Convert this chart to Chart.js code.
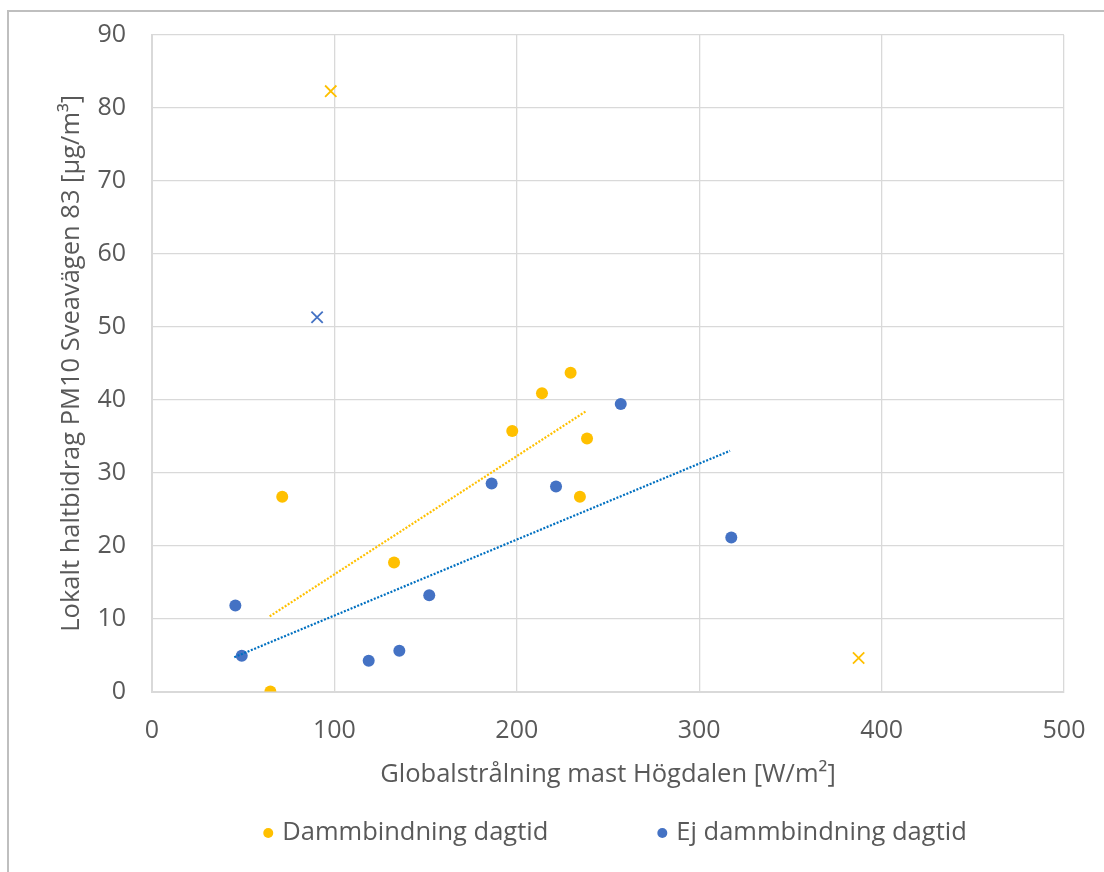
<!DOCTYPE html>
<html>
<head>
<meta charset="utf-8">
<script src="https://cdn.jsdelivr.net/npm/chart.js@4/dist/chart.umd.min.js"></script>
<style>
  html, body { margin: 0; padding: 0; background: #ffffff; }
  #wrap { width: 1104px; height: 872px; position: relative; }
</style>
</head>
<body>
<div id="wrap"><canvas id="chart" width="1104" height="872"></canvas></div>
<script>
// Global radiation (W/m²) vs local PM10 contribution (µg/m³)
const dammX = [64.9, 71.4, 132.7, 197.5, 213.8, 229.5, 238.5, 234.6];
const dammY = [0.0, 26.7, 17.7, 35.7, 40.9, 43.7, 34.7, 26.7];
const ejX = [45.7, 49.2, 118.8, 135.6, 152.0, 186.2, 221.5, 257.0, 317.6];
const ejY = [11.8, 4.9, 4.2, 5.6, 13.2, 28.5, 28.1, 39.4, 21.1];

// Excluded days (drawn as crosses)
const dammOutX = [98.0, 387.4];
const dammOutY = [82.3, 4.6];
const ejOutX = [90.5];
const ejOutY = [51.3];

// Linear trend lines, end points
const dammTrendX = [64.5, 237.8];
const dammTrendY = [10.3, 38.4];
const ejTrendX = [45.1, 316.9];
const ejTrendY = [4.7, 33.0];

const xTicks = [0, 100, 200, 300, 400, 500];
const yTicks = [0, 10, 20, 30, 40, 50, 60, 70, 80, 90];

const seriesNames = ['Dammbindning dagtid', 'Ej dammbindning dagtid'];
const xTitle = 'Globalstrålning mast Högdalen [W/m²]';
const yTitle = 'Lokalt haltbidrag PM10 Sveavägen 83 [µg/m³]';

const YELLOW = '#FFC000';
const BLUE = '#4472C4';
const TREND_BLUE = '#0070C0';
const TEXT = '#595959';
const GRID = '#d9d9d9';
const FONT = '"Open Sans", "Noto Sans", sans-serif';
const TITLE_SIZE = 25.5;

const pts = (xs, ys) => xs.map((x, i) => ({ x: x, y: ys[i] }));

const frame = {
  id: 'frame',
  beforeDraw(chart) {
    const c = chart.ctx;
    c.save();
    c.fillStyle = '#ffffff';
    c.fillRect(0, 0, chart.width, chart.height);
    c.strokeStyle = '#bfbfbf';
    c.lineWidth = 2;
    c.strokeRect(8, 11, chart.width + 40, chart.height + 40);
    c.restore();
  }
};

// Legend along the bottom, built from the two main datasets
const bottomLegend = {
  id: 'bottomLegend',
  afterDraw(chart) {
    const c = chart.ctx;
    const items = chart.data.datasets.filter(d => d.inLegend);
    c.save();
    c.font = TITLE_SIZE + 'px ' + FONT;
    c.textBaseline = 'middle';
    const dot = 5, gapText = 9, gapItems = 109;
    const widths = items.map(d => dot * 2 + gapText + c.measureText(d.label).width);
    const total = widths.reduce((a, b) => a + b, 0) + gapItems * (items.length - 1);
    let x = 615 - total / 2;
    const y = 833;
    items.forEach((d, i) => {
      c.fillStyle = d.backgroundColor;
      c.beginPath();
      c.arc(x + dot, y, dot, 0, Math.PI * 2);
      c.fill();
      c.fillStyle = TEXT;
      c.fillText(d.label, x + dot * 2 + gapText, y);
      x += widths[i] + gapItems;
    });
    c.restore();
  }
};

new Chart(document.getElementById('chart'), {
  type: 'scatter',
  data: {
    datasets: [
      {
        label: seriesNames[0], inLegend: true,
        data: pts(dammX, dammY),
        backgroundColor: YELLOW, borderColor: YELLOW,
        pointRadius: 6, pointBorderWidth: 0, order: 2
      },
      {
        label: seriesNames[1], inLegend: true,
        data: pts(ejX, ejY),
        backgroundColor: BLUE, borderColor: BLUE,
        pointRadius: 6, pointBorderWidth: 0, order: 2
      },
      {
        label: seriesNames[0] + ' (x)',
        data: pts(dammOutX, dammOutY),
        pointStyle: 'crossRot', borderColor: YELLOW, backgroundColor: YELLOW,
        pointRadius: 8, pointBorderWidth: 1.8, order: 2
      },
      {
        label: seriesNames[1] + ' (x)',
        data: pts(ejOutX, ejOutY),
        pointStyle: 'crossRot', borderColor: BLUE, backgroundColor: BLUE,
        pointRadius: 8, pointBorderWidth: 1.8, order: 2
      },
      {
        type: 'line', label: 'Linjär (' + seriesNames[0] + ')',
        data: pts(dammTrendX, dammTrendY),
        borderColor: YELLOW, borderWidth: 2.2, borderDash: [2, 1.6],
        pointRadius: 0, fill: false, order: 1
      },
      {
        type: 'line', label: 'Linjär (' + seriesNames[1] + ')',
        data: pts(ejTrendX, ejTrendY),
        borderColor: TREND_BLUE, borderWidth: 2.2, borderDash: [2, 1.6],
        pointRadius: 0, fill: false, order: 1
      }
    ]
  },
  options: {
    responsive: false,
    animation: false,
    events: [],
    layout: { padding: { left: 0, right: 40, top: 35, bottom: 0 } },
    plugins: {
      legend: { display: false },
      tooltip: { enabled: false }
    },
    scales: {
      x: {
        type: 'linear', min: 0, max: 500,
        afterBuildTicks: s => { s.ticks = xTicks.map(v => ({ value: v })); },
        grid: { color: GRID, lineWidth: 1.3, drawTicks: false },
        border: { color: GRID, width: 2 },
        ticks: { color: TEXT, font: { family: FONT, size: 25 }, padding: 24 },
        title: {
          display: true, text: xTitle, color: TEXT,
          font: { family: FONT, size: TITLE_SIZE }, padding: { top: 0, bottom: 82 }
        },
        afterFit: s => {
          s.height = 872 - 691.5;
          s.paddingLeft = 0;
          s.paddingRight = 0;
        }
      },
      y: {
        type: 'linear', min: 0, max: 90,
        afterBuildTicks: s => { s.ticks = yTicks.map(v => ({ value: v })); },
        grid: { color: GRID, lineWidth: 1.3, drawTicks: false },
        border: { color: GRID, width: 2 },
        ticks: { color: TEXT, font: { family: FONT, size: 25 }, padding: 26 },
        title: {
          display: true, text: yTitle, color: TEXT,
          font: { family: FONT, size: TITLE_SIZE }, padding: { top: 56, bottom: 0 }
        },
        afterFit: s => {
          s.width = 152;
          s.paddingTop = 0;
          s.paddingBottom = 0;
        }
      }
    }
  },
  plugins: [frame, bottomLegend]
});
</script>
</body>
</html>
